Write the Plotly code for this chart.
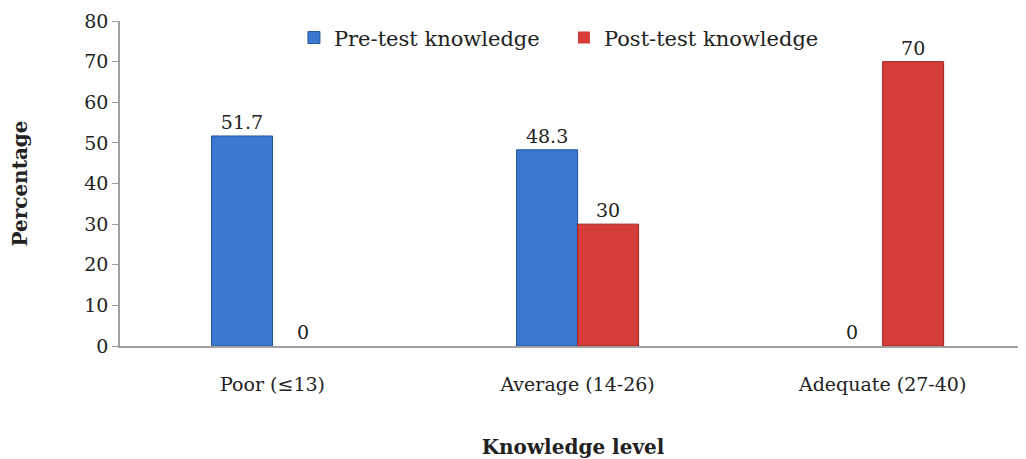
import plotly.graph_objects as go

categories = ["Poor (≤13)", "Average (14-26)", "Adequate (27-40)"]
pre_test = [51.7, 48.3, 0]
post_test = [0, 30, 70]
pre_labels = ["51.7", "48.3", "0"]
post_labels = ["0", "30", "70"]
y_ticks = [0, 10, 20, 30, 40, 50, 60, 70, 80]

FONT = "DejaVu Serif"

def outline(vals):
    return [1 if v > 0 else 0 for v in vals]

fig = go.Figure()
fig.add_trace(go.Bar(
    name="Pre-test knowledge", x=categories, y=pre_test, text=pre_labels,
    textposition="outside", cliponaxis=False,
    marker=dict(color="#3a79cf", line=dict(color="#24559a", width=outline(pre_test))),
    textfont=dict(family=FONT, size=19, color="#222"),
))
fig.add_trace(go.Bar(
    name="Post-test knowledge", x=categories, y=post_test, text=post_labels,
    textposition="outside", cliponaxis=False,
    marker=dict(color="#d63c38", line=dict(color="#9a2422", width=outline(post_test))),
    textfont=dict(family=FONT, size=19, color="#222"),
))

fig.update_layout(
    width=1018, height=451,
    margin=dict(l=112, r=0, t=13, b=113, autoexpand=False),
    paper_bgcolor="white", plot_bgcolor="white",
    barmode="group", bargap=0.6, bargroupgap=0,
    font=dict(family=FONT, size=19, color="#222"),
    showlegend=True,
    legend=dict(orientation="h", x=0.192, y=0.948, xanchor="left", yanchor="middle",
                font=dict(family=FONT, size=21), bgcolor="rgba(0,0,0,0)",
                itemwidth=30, entrywidth=225, traceorder="normal"),
    xaxis=dict(range=[-0.5, 2.47], showline=True, linecolor="#a0a0a0", linewidth=2, ticks="",
               ticklabelstandoff=20, tickfont=dict(family=FONT, size=19),
               title=dict(text="<b>Knowledge level</b>", font=dict(family=FONT, size=20),
                          standoff=48)),
    yaxis=dict(range=[0, 80], tickvals=y_ticks, showgrid=False, zeroline=False,
               showline=True, linecolor="#a0a0a0", linewidth=1.5, ticks="outside",
               ticklen=6, tickcolor="#a0a0a0", tickfont=dict(family=FONT, size=19),
               title=dict(text="<b>Percentage</b>", font=dict(family=FONT, size=20),
                          standoff=52)),
)

fig.write_html("out.html")
